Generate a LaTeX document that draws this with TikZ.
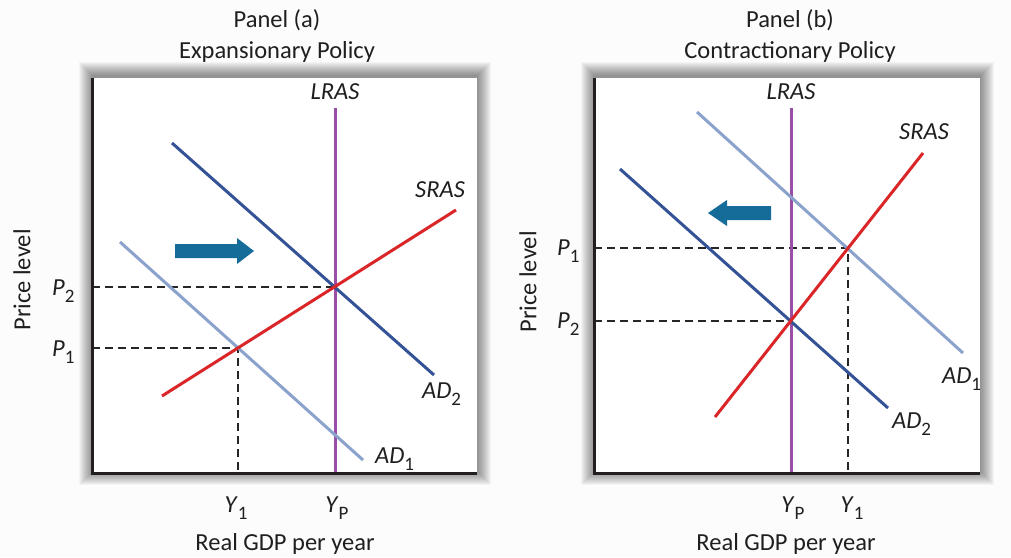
\documentclass[tikz,border=0pt]{standalone}
\usepackage{fontspec}
\setmainfont{Carlito}
\definecolor{lrascol}{RGB}{155,78,168}
\definecolor{addark}{RGB}{52,82,150}
\definecolor{adlight}{RGB}{138,162,204}
\definecolor{srascol}{RGB}{218,38,40}
\definecolor{arrowcol}{RGB}{22,108,152}
\definecolor{axiscol}{RGB}{35,31,32}
\newcommand\sublbl[2]{\textit{#1}\raisebox{-0.3em}{\fontsize{19}{19}\selectfont #2}}
\tikzset{
  txt/.style={font=\fontsize{24.5}{26}\selectfont, inner sep=0pt, text=black!88},
  curve/.style={line width=3pt},
  guide/.style={line width=1.4pt, dash pattern=on 8pt off 5pt, black!85},
  axis/.style={line width=3pt, axiscol, line join=miter},
  shiftarrow/.style={fill=arrowcol, draw=none}
}
\begin{document}
\begin{tikzpicture}[x=1pt,y=-1pt]
\useasboundingbox (0,0) rectangle (1011,557);
\fill[black!1] (0,0) rectangle (1011,557);
% shadows and panel frames
\foreach \xa/\xb in {92/477, 594/980}{
  \foreach \d in {1,...,14}{
    \fill[black, fill opacity=0.035] (\xa-\d+1,78-\d-2) rectangle (\xb+\d,473+\d-2);
  }
  \fill[white] (\xa,78) rectangle (\xb,473);
}
% ---------------- Panel (a) ----------------
\node[txt, anchor=base] (ta1) at (277,27) {Panel (a)};
\node[txt, anchor=base] (ta2) at (277,58) {Expansionary Policy};
\coordinate (a-o) at (92,473);
\coordinate (a-top) at (92,78);
\coordinate (a-right) at (477,473);
\coordinate (a-e2) at (335,287);
\coordinate (a-e1) at (238,348);
\coordinate (a-p2) at (92,287);
\coordinate (a-p1) at (92,348);
\coordinate (a-y1) at (238,473);
\draw[guide] (a-p2) -- (a-e2);
\draw[guide] (a-p1) -- (a-e1) -- (a-y1);
\coordinate (a-lr1) at (335,108);
\coordinate (a-lr2) at (335,473);
\draw[curve, lrascol] (a-lr1) -- (a-lr2);
\coordinate (a-ad1s) at (120,242);
\coordinate (a-ad1e) at (363,460);
\draw[curve, adlight] (a-ad1s) -- (a-ad1e);
\coordinate (a-ad2s) at (172,143);
\coordinate (a-ad2e) at (434,375);
\draw[curve, addark] (a-ad2s) -- (a-ad2e);
\coordinate (a-ss) at (162,396);
\coordinate (a-se) at (456,210);
\draw[curve, srascol] (a-ss) -- (a-se);
\draw[axis] (a-top) -- (a-o) -- (a-right);
\fill[shiftarrow] (175,244) -- (237,244) -- (237,238) -- (254,251) -- (237,264) -- (237,258) -- (175,258) -- cycle;
\node[txt, anchor=base] (a-lrl) at (335,99) {\textit{LRAS}};
\node[txt, anchor=base] (a-srl) at (440,197) {\textit{SRAS}};
\node[txt, anchor=base west] (a-ad2l) at (422,398) {\sublbl{AD}{2}};
\node[txt, anchor=base west] (a-ad1l) at (375,463) {\sublbl{AD}{1}};
\node[txt, anchor=base west] (a-p2l) at (52,295) {\sublbl{P}{2}};
\node[txt, anchor=base west] (a-p1l) at (52,356) {\sublbl{P}{1}};
\node[txt, anchor=base] (a-y1l) at (236,512) {\sublbl{Y}{1}};
\node[txt, anchor=base] (a-ypl) at (337,512) {\sublbl{Y}{P}};
\node[txt, rotate=90] (a-plab) at (22,280) {Price level};
\node[txt, anchor=base] (a-xlab) at (285,550) {Real GDP per year};
% ---------------- Panel (b) ----------------
\node[txt, anchor=base] (tb1) at (790,27) {Panel (b)};
\node[txt, anchor=base] (tb2) at (790,58) {Contractionary Policy};
\coordinate (b-o) at (594,473);
\coordinate (b-top) at (594,78);
\coordinate (b-right) at (980,473);
\coordinate (b-e1) at (848,248);
\coordinate (b-e2) at (791,321);
\coordinate (b-p1) at (594,248);
\coordinate (b-p2) at (594,321);
\coordinate (b-y1) at (848,473);
\draw[guide] (b-p1) -- (b-e1) -- (b-y1);
\draw[guide] (b-p2) -- (b-e2);
\coordinate (b-lr1) at (791,108);
\coordinate (b-lr2) at (791,473);
\draw[curve, lrascol] (b-lr1) -- (b-lr2);
\coordinate (b-ad1s) at (697,112);
\coordinate (b-ad1e) at (963,353);
\draw[curve, adlight] (b-ad1s) -- (b-ad1e);
\coordinate (b-ad2s) at (620,169);
\coordinate (b-ad2e) at (888,408);
\draw[curve, addark] (b-ad2s) -- (b-ad2e);
\coordinate (b-ss) at (715,417);
\coordinate (b-se) at (923,153);
\draw[curve, srascol] (b-ss) -- (b-se);
\draw[axis] (b-top) -- (b-o) -- (b-right);
\fill[shiftarrow] (771,206) -- (727,206) -- (727,200) -- (708,213) -- (727,226) -- (727,220) -- (771,220) -- cycle;
\node[txt, anchor=base] (b-lrl) at (791,99) {\textit{LRAS}};
\node[txt, anchor=base] (b-srl) at (924,139) {\textit{SRAS}};
\node[txt, anchor=base west] (b-ad1l) at (942,383) {\sublbl{AD}{1}};
\node[txt, anchor=base west] (b-ad2l) at (892,428) {\sublbl{AD}{2}};
\node[txt, anchor=base west] (b-p1l) at (557,255) {\sublbl{P}{1}};
\node[txt, anchor=base west] (b-p2l) at (557,328) {\sublbl{P}{2}};
\node[txt, anchor=base] (b-ypl) at (793,512) {\sublbl{Y}{P}};
\node[txt, anchor=base] (b-y1l) at (852,512) {\sublbl{Y}{1}};
\node[txt, rotate=90] (b-plab) at (528,282) {Price level};
\node[txt, anchor=base] (b-xlab) at (786,550) {Real GDP per year};
\end{tikzpicture}
\end{document}
